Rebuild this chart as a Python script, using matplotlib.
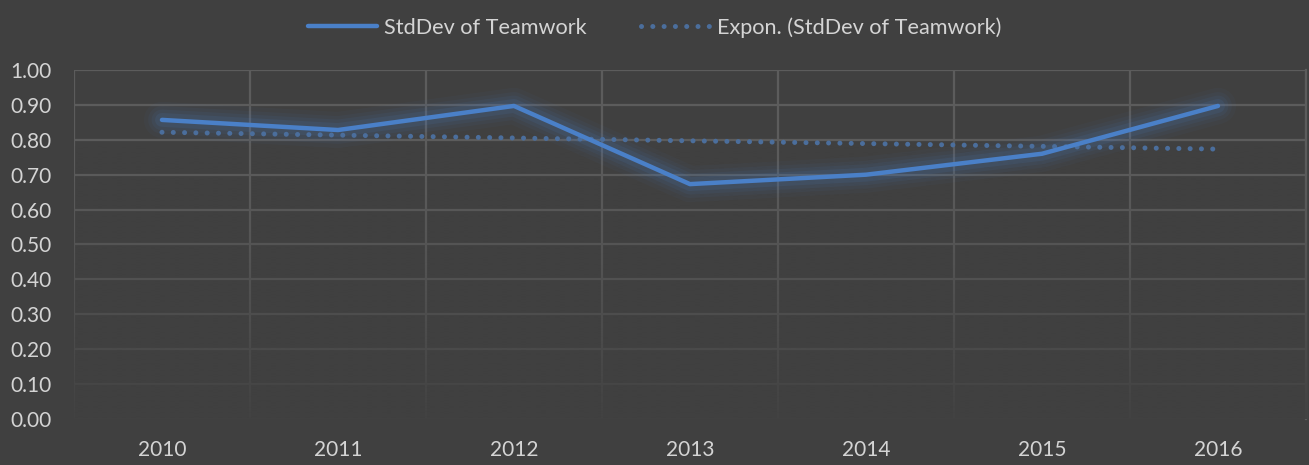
import numpy as np
import matplotlib
matplotlib.use("Agg")
import matplotlib.pyplot as plt
from matplotlib.colors import to_rgb

years = ["2010", "2011", "2012", "2013", "2014", "2015", "2016"]
stddev = [0.857, 0.828, 0.897, 0.673, 0.700, 0.760, 0.897]

BG = "#404040"
GRID = "#5c5c5c"
TEXT = "#d4d4d4"
BLUE = "#4a80c8"
TREND = "#4b6e9c"

plt.rcParams["font.family"] = ["Lato", "DejaVu Sans"]
FS = 15

fig = plt.figure(figsize=(13.09, 4.65), dpi=100, facecolor=BG)
ax = fig.add_axes([0.0565, 0.0989, 0.9412, 0.7506], facecolor=BG)

x = np.arange(len(years))
y = np.array(stddev)

# exponential trendline fitted on log values, like Excel's "Expon." option
b, a = np.polyfit(x, np.log(y), 1)
xt = np.linspace(x[0], x[-1], 200)
yt = np.exp(a + b * xt)

# soft glow behind the main series
for w, al in [(26, 0.045), (20, 0.055), (15, 0.075), (10, 0.11)]:
    ax.plot(x, y, color=BLUE, lw=w, alpha=al, solid_capstyle="round",
            solid_joinstyle="round", zorder=3)
ax.plot(x, y, color=BLUE, lw=3.2, solid_capstyle="round",
        solid_joinstyle="round", zorder=5, label="StdDev of Teamwork")
ax.plot(xt, yt, color=TREND, lw=3.6, linestyle=(0, (0.01, 2.25)),
        dash_capstyle="round", zorder=4, label="Expon. (StdDev of Teamwork)")

ax.set_xlim(-0.5, len(years) - 0.5)
ax.set_ylim(0, 1.0)
ax.set_xticks(x)
ax.set_xticklabels(years)
ax.set_xticks(np.arange(-0.5, len(years)), minor=True)
ax.set_yticks(np.arange(0, 1.01, 0.1))
ax.set_yticklabels([f"{v:.2f}" for v in np.arange(0, 1.01, 0.1)])
ax.tick_params(axis="both", which="both", length=0, colors=TEXT, labelsize=FS)
ax.tick_params(axis="x", pad=15)
ax.tick_params(axis="y", pad=16)
ax.grid(axis="y", which="major", color=GRID, lw=1.6, zorder=1)
ax.grid(axis="x", which="minor", color=GRID, lw=1.6, zorder=1)
for s in ax.spines.values():
    s.set_visible(False)
ax.plot([len(years) - 0.5] * 2, [0, 1], color=GRID, lw=1.6, zorder=1, clip_on=False)

# grid fades out toward the bottom of the plot area
r, g, bb = to_rgb(BG)
grad = np.zeros((256, 1, 4))
grad[..., 0], grad[..., 1], grad[..., 2] = r, g, bb
grad[:, 0, 3] = np.clip(np.linspace(0.95, -0.25, 256), 0, 1) ** 1.3
ax.imshow(grad, extent=[-0.5, len(years) - 0.5, 0, 1.0], origin="lower",
          aspect="auto", zorder=2, interpolation="bilinear")
ax.set_xlim(-0.5, len(years) - 0.5)
ax.set_ylim(0, 1.0)

fig.legend(loc="upper center", bbox_to_anchor=(0.5, 1.005), ncol=2, frameon=False,
           fontsize=15.6, labelcolor=TEXT, handlelength=3.2, handletextpad=0.3,
           columnspacing=2.5)

fig.savefig("out.png", dpi=100, facecolor=BG)
